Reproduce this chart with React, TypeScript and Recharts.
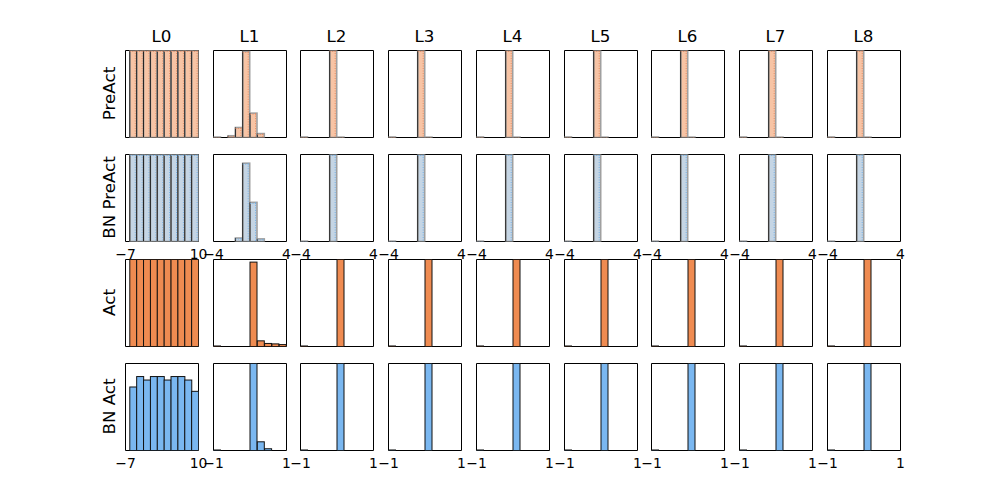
import React from "react";
import { BarChart, Bar, XAxis, YAxis, ReferenceArea } from "recharts";

const layers = ["L0", "L1", "L2", "L3", "L4", "L5", "L6", "L7", "L8"];
const rowLabels = ["PreAct", "BN PreAct", "Act", "BN Act"];

// bin centres for each x range
const l0Bins = [-5.2, -3.6, -2.0, -0.4, 1.2, 2.8, 4.4, 6.0, 7.6, 9.2];
const preBins = [-3.6, -2.8, -2.0, -1.2, -0.4, 0.4, 1.2, 2.0, 2.8, 3.6];
const actBins = [-0.9, -0.7, -0.5, -0.3, -0.1, 0.1, 0.3, 0.5, 0.7, 0.9];

const l0Domain = [-7, 10];
const preDomain = [-4, 4];
const actDomain = [-1, 1];

// normalised bin counts (1 = tallest bin in the panel)
const l0PreAct = [1, 1, 1, 1, 1, 1, 1, 1, 1, 1];
const l0BnPreAct = [1, 1, 1, 1, 1, 1, 1, 1, 1, 1];
const l0Act = [1, 1, 1, 1, 1, 1, 1, 1, 1, 1];
const l0BnAct = [0.73, 0.85, 0.81, 0.85, 0.85, 0.81, 0.85, 0.85, 0.81, 0.68];

const l1PreAct = [0.005, 0, 0.02, 0.115, 0.99, 0.28, 0.045, 0, 0, 0];
const l1BnPreAct = [0, 0, 0, 0.04, 0.9, 0.45, 0.03, 0, 0, 0];
const l1Act = [0.006, 0, 0, 0, 0, 0.97, 0.065, 0.035, 0.03, 0.022];
const l1BnAct = [0.006, 0, 0, 0, 0, 1, 0.1, 0.02, 0, 0];

// L2..L8 all collapse onto a single bin
const deepPreAct = [0.006, 0, 0, 0, 1, 0.004, 0, 0, 0, 0];
const deepBnPreAct = [0.004, 0, 0, 0, 1, 0, 0, 0, 0, 0];
const deepAct = [0.006, 0, 0, 0, 0, 1, 0, 0, 0, 0];
const deepBnAct = [0.006, 0, 0, 0, 0, 1, 0, 0, 0, 0];

const rowSeries = [
  [l0PreAct, l1PreAct, deepPreAct],
  [l0BnPreAct, l1BnPreAct, deepBnPreAct],
  [l0Act, l1Act, deepAct],
  [l0BnAct, l1BnAct, deepBnAct],
];

const rowStyles = [
  { fill: "#f7c4a5", dot: "#e8875a", soft: true },
  { fill: "#c5d5e4", dot: "#6aaeea", soft: true },
  { fill: "#ef8b51", dot: "", soft: false },
  { fill: "#7ab7f0", dot: "", soft: false },
];

// subplot grid geometry
const LEFT = 125;
const TOP = 50;
const PANEL_W = 73;
const PANEL_H = 87;
const COL_STEP = 775 / 10.6 * 1.2;
const ROW_STEP = 400 / 4.6 * 1.2;
const PAD_L = 20;
const PAD_R = 20;
const PAD_T = 10;
const PAD_B = 26;

const FONT = "DejaVu Sans, sans-serif";

const fmt = (v: number) => String(v).replace("-", "\u2212");

function SoftBar(props: any) {
  const { x, y, width, height, fill, dot } = props;
  if (!(height > 0)) return <g />;
  return (
    <g>
      <rect x={x} y={y} width={width} height={height} fill={fill} stroke="#a0a0a0" strokeWidth={1.6} />
      <line x1={x} x2={x} y1={y} y2={y + height} stroke="#222" strokeWidth={1} />
      <line x1={x + width - 1.5} x2={x + width - 1.5} y1={y} y2={y + height} stroke={dot} strokeWidth={0.9} strokeDasharray="1 1.5" />
      <line x1={x} x2={x + width} y1={y + 1} y2={y + 1} stroke={dot} strokeWidth={0.9} strokeDasharray="1 1.5" />
    </g>
  );
}

function SolidBar(props: any) {
  const { x, y, width, height, fill } = props;
  if (!(height > 0)) return <g />;
  return <rect x={x} y={y} width={width} height={height} fill={fill} stroke="#111" strokeWidth={1} />;
}

function Panel({ row, col }: { row: number; col: number }) {
  const bins = col === 0 ? l0Bins : row < 2 ? preBins : actBins;
  const domain = col === 0 ? l0Domain : row < 2 ? preDomain : actDomain;
  const values = rowSeries[row][Math.min(col, 2)];
  const style = rowStyles[row];
  const data = bins.map((x, i) => ({ x, count: values[i] }));
  const showTicks = row === 1 || row === 3;
  const left = Math.round(LEFT + col * COL_STEP);
  const top = Math.round(TOP + row * ROW_STEP);

  return (
    <div style={{ position: "absolute", left: left - PAD_L, top: top - PAD_T }}>
      <BarChart
        width={PANEL_W + PAD_L + PAD_R}
        height={PANEL_H + PAD_T + PAD_B}
        data={data}
        margin={{ top: PAD_T + 0.5, right: PAD_R - 0.5, bottom: 0, left: PAD_L + 0.5 }}
        barCategoryGap={0}
        barGap={0}
      >
        <XAxis
          dataKey="x"
          type="number"
          domain={domain}
          ticks={domain}
          interval={0}
          allowDataOverflow
          axisLine={false}
          tickLine={false}
          tickSize={6}
          tickMargin={2}
          height={PAD_B - 0.5}
          tick={showTicks ? { fontSize: 13.9, fontFamily: FONT, fill: "#000" } : false}
          tickFormatter={fmt}
        />
        <YAxis hide domain={[0, 1]} allowDataOverflow />
        <Bar
          dataKey="count"
          fill={style.fill}
          isAnimationActive={false}
          shape={(p: any) =>
            style.soft ? <SoftBar {...p} fill={style.fill} dot={style.dot} /> : <SolidBar {...p} fill={style.fill} />
          }
        />
        <ReferenceArea
          x1={domain[0]}
          x2={domain[1]}
          y1={0}
          y2={1}
          fill="none"
          fillOpacity={0}
          stroke="#000"
          strokeWidth={1}
          strokeOpacity={1}
        />
      </BarChart>
    </div>
  );
}

export default function App() {
  return (
    <div style={{ position: "absolute", left: 0, top: 0, width: 1000, height: 500, background: "#fff" }}>
      {rowLabels.map((_, r) => layers.map((_, c) => <Panel key={`${r}-${c}`} row={r} col={c} />))}
      <svg width={1000} height={500} style={{ position: "absolute", left: 0, top: 0, pointerEvents: "none" }}>
        {layers.map((name, c) => (
          <text
            key={name}
            x={Math.round(LEFT + c * COL_STEP) + PANEL_W / 2}
            y={TOP - 8}
            textAnchor="middle"
            fontSize={16.7}
            fontFamily={FONT}
            fill="#000"
          >
            {name}
          </text>
        ))}
        {rowLabels.map((name, r) => {
          const cy = Math.round(TOP + r * ROW_STEP) + PANEL_H / 2;
          return (
            <text
              key={name}
              x={115}
              y={cy}
              transform={`rotate(-90 115 ${cy})`}
              textAnchor="middle"
              fontSize={16.7}
              fontFamily={FONT}
              fill="#000"
            >
              {name}
            </text>
          );
        })}
      </svg>
    </div>
  );
}
